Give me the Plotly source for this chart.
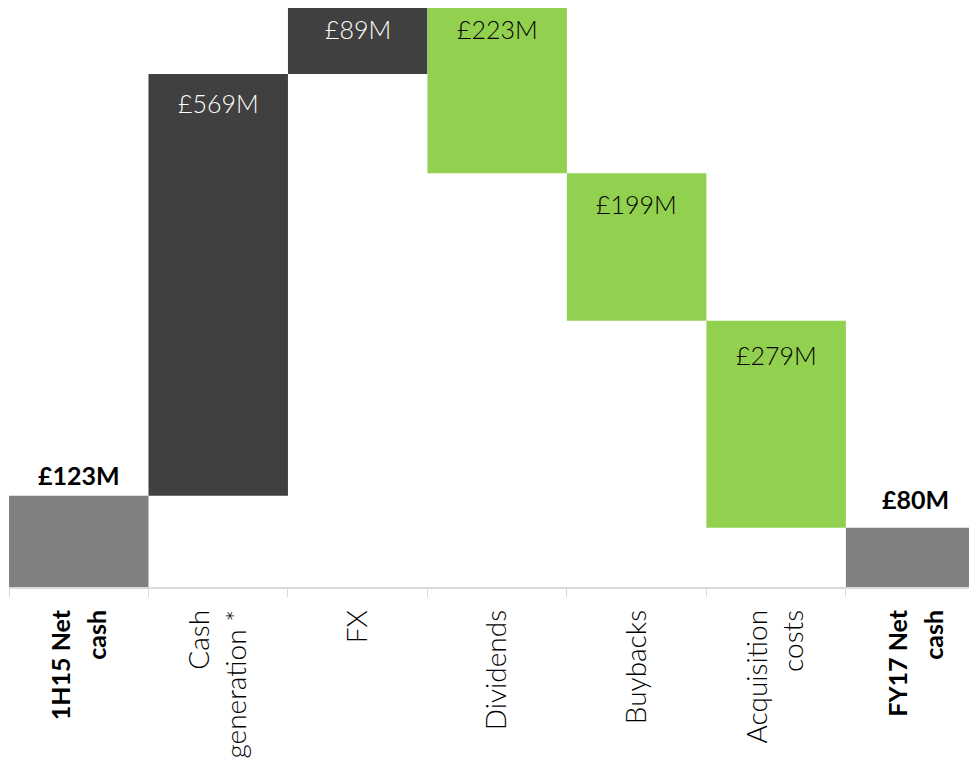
import plotly.graph_objects as go

categories = ["<b style='font-size:25px'>1H15 Net<br>cash</b>", "Cash<br>generation *", "FX", "Dividends",
              "Buybacks", "Acquisition<br>costs", "<b style='font-size:25px'>FY17 Net<br>cash</b>"]
measures = ["absolute", "relative", "relative", "relative", "relative", "relative", "total"]
values = [123, 569, 89, -223, -199, -279, 0]
labels = ["£123M", "£569M", "£89M", "£223M", "£199M", "£279M", "£80M"]

# label offsets in pixels (styling only)
label_shift = [4, -12, -4, -4, -14, -17, 12]

GRAY = "#808080"
DARK = "#404040"
GREEN = "#92D050"
FONT = "Lato"

fig = go.Figure(go.Waterfall(
    x=categories,
    measure=measures,
    y=values,
    width=1.0,
    connector=dict(visible=False),
    increasing=dict(marker=dict(color=DARK)),
    decreasing=dict(marker=dict(color=GREEN)),
    totals=dict(marker=dict(color=GRAY)),
    hoverinfo="skip",
))

# label positions from cumulative sums
cum = 0
annots = []
for i, (m, v, lab) in enumerate(zip(measures, values, labels)):
    if m in ("absolute", "total"):
        if m == "absolute":
            cum = v
        annots.append(dict(x=categories[i], y=cum, text="<b>" + lab + "</b>", yanchor="bottom",
                           yshift=label_shift[i],
                           font=dict(size=25, color="#000000", family=FONT), showarrow=False))
    else:
        top = cum + v if v > 0 else cum
        col = "#ffffff" if v > 0 else "#000000"
        annots.append(dict(x=categories[i], y=top, text=lab, yanchor="top", yshift=label_shift[i],
                           font=dict(size=25, color=col, family=FONT, weight=300), showarrow=False))
        cum += v

fig.update_layout(
    width=969, height=750,
    margin=dict(l=1, r=0, t=0, b=171, autoexpand=False),
    paper_bgcolor="white", plot_bgcolor="white",
    showlegend=False,
    annotations=annots,
    font=dict(family=FONT, size=28, color="#000000"),
    xaxis=dict(
        type="category",
        range=[-0.5, 6.44],
        tickangle=-90,
        automargin=False,
        showgrid=False, zeroline=False,
        showline=True, linecolor="#d9d9d9", linewidth=1.5,
        ticks="outside", ticklen=8, tickcolor="#d9d9d9", tickwidth=1,
        tickson="boundaries",
        ticklabelstandoff=10,
        tickfont=dict(size=28, family=FONT, color="#000000", weight=300),
    ),
    yaxis=dict(range=[0, 781], visible=False, showgrid=False, zeroline=False, automargin=False),
)

fig.write_html("out.html")
